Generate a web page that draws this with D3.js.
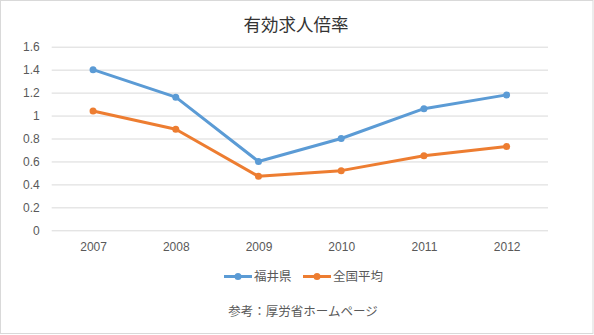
<!DOCTYPE html>
<html><head><meta charset="utf-8">
<script src="https://cdn.jsdelivr.net/npm/d3@7"></script>
<style>body{margin:0;background:#fff;} svg{display:block;}</style>
</head><body>
<svg id="c" width="594" height="335"></svg>
<script>
const years = ["2007","2008","2009","2010","2011","2012"];
const fukui = [1.40,1.16,0.60,0.80,1.06,1.18];
const national = [1.04,0.88,0.47,0.52,0.65,0.73];
const yTicks = [0,0.2,0.4,0.6,0.8,1,1.2,1.4,1.6];
const seriesNames = ["福井県","全国平均"];
const colors = ["#5b9bd5","#ed7d31"];
const title = "有効求人倍率";
const source = "参考：厚労省ホームページ";

(function(){
const svg = d3.select("#c");
const W=594,H=335;
svg.append("rect").attr("x",0.5).attr("y",0.5).attr("width",W-1.5).attr("height",H-2)
  .attr("fill","#fff").attr("stroke","#d9d9d9");

const pL=51.7,pR=548,pT=46.7,pB=230.3;
const x = d3.scalePoint().domain(years).range([pL,pR]).padding(0.5);
const y = d3.scaleLinear().domain([0,1.6]).range([pB,pT]);

const fontNum = "'Liberation Sans','DejaVu Sans',sans-serif";
const fontCJK = "'Noto Sans CJK JP',sans-serif";

svg.append("text").attr("x",296).attr("y",31).attr("text-anchor","middle")
  .attr("font-family",fontCJK).attr("font-size",17.5).attr("fill","#333").text(title);

const yAxis = svg.append("g").attr("transform",`translate(${pL},0)`)
  .call(d3.axisLeft(y).tickValues(yTicks).tickSize(-(pR-pL)).tickFormat(d=>d3.format("")(d)));
yAxis.select(".domain").remove();
yAxis.selectAll(".tick line").attr("stroke","#d9d9d9");
yAxis.selectAll(".tick text").attr("x",-12).attr("font-family",fontNum).attr("font-size",12).attr("fill","#595959");

const xAxis = svg.append("g").attr("transform",`translate(0,${pB})`)
  .call(d3.axisBottom(x).tickSize(0));
xAxis.select(".domain").remove();
xAxis.selectAll(".tick text").attr("dy",0).attr("y",21).attr("font-family",fontNum).attr("font-size",12).attr("fill","#595959");

const data=[fukui,national];
data.forEach((vals,i)=>{
  const line=d3.line().x((d,j)=>x(years[j])).y(d=>y(d));
  svg.append("path").datum(vals).attr("d",line).attr("fill","none")
    .attr("stroke",colors[i]).attr("stroke-width",3).attr("stroke-linejoin","round").attr("stroke-linecap","round");
  svg.selectAll(null).data(vals).enter().append("circle")
    .attr("cx",(d,j)=>x(years[j])).attr("cy",d=>y(d)).attr("r",3.5).attr("fill",colors[i]);
});

const legX=[224,303];
seriesNames.forEach((n,i)=>{
  const g=svg.append("g").attr("transform",`translate(${legX[i]},276.5)`);
  g.append("line").attr("x1",0).attr("x2",28).attr("stroke",colors[i]).attr("stroke-width",3);
  g.append("circle").attr("cx",14).attr("r",3.5).attr("fill",colors[i]);
  g.append("text").attr("x",30).attr("y",4.5).attr("font-family",fontCJK).attr("font-size",12.5).attr("fill","#595959").text(n);
});

svg.append("text").attr("x",303).attr("y",316).attr("text-anchor","middle")
  .attr("font-family",fontCJK).attr("font-size",12.5).attr("fill","#595959").text(source);
})();
</script>
</body></html>
